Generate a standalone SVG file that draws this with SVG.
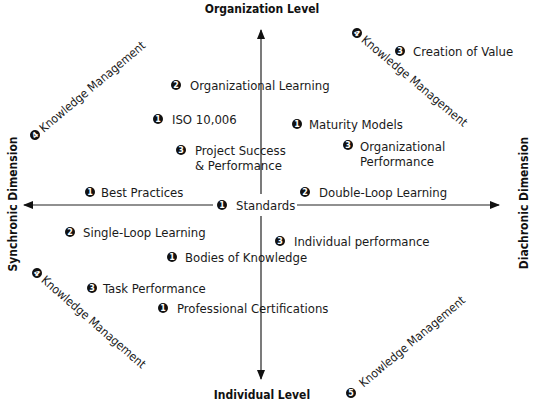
<svg xmlns="http://www.w3.org/2000/svg" width="542" height="401" viewBox="0 0 542 401">
<style>
.t{font-family:"DejaVu Sans Condensed","DejaVu Sans",sans-serif;font-size:13px;fill:#1a1a1a}
.km{font-family:"DejaVu Sans Condensed","DejaVu Sans",sans-serif;font-size:12px;fill:#1a1a1a}
.h{font-family:"DejaVu Sans Condensed","DejaVu Sans",sans-serif;font-size:12px;font-weight:bold;fill:#111}
.b{fill:#111}
.n{font-family:"DejaVu Sans",sans-serif;font-size:8px;font-weight:bold;fill:#fff;text-anchor:middle}
.ax{stroke:#222;stroke-width:1.2;fill:none}
</style>
<defs>
<marker id="ah" viewBox="0 0 10 8" refX="9" refY="4" markerWidth="10" markerHeight="8" markerUnits="userSpaceOnUse" orient="auto">
<path d="M0,0 L10,4 L0,8 Z" fill="#111"/>
</marker>
</defs>
<rect width="542" height="401" fill="#fff"/>
<g id="connectors">
<line class="ax" x1="261" y1="194" x2="261" y2="30" marker-end="url(#ah)"/>
<line class="ax" x1="261" y1="216" x2="261" y2="379" marker-end="url(#ah)"/>
<line class="ax" x1="213" y1="205" x2="24" y2="205" marker-end="url(#ah)"/>
<line class="ax" x1="297" y1="205" x2="499" y2="205" marker-end="url(#ah)"/>
</g>
<g id="axis-labels">
<text class="h" x="262" y="13" text-anchor="middle">Organization Level</text>
<text class="h" x="262" y="399" text-anchor="middle">Individual Level</text>
<text class="h" transform="translate(17,204) rotate(-90)" text-anchor="middle">Synchronic Dimension</text>
<text class="h" transform="translate(528,203) rotate(-90)" text-anchor="middle">Diachronic Dimension</text>
</g>
<g id="standards"><circle class="b" cx="222" cy="205" r="5"/><text class="n" x="222" y="208">1</text><text class="t" x="236" y="210">Standards</text></g>
<g id="org-learning"><circle class="b" cx="176" cy="85" r="5"/><text class="n" x="176" y="88">2</text><text class="t" x="190" y="90">Organizational Learning</text></g>
<g id="iso"><circle class="b" cx="158" cy="119" r="5"/><text class="n" x="158" y="122">1</text><text class="t" x="172" y="124">ISO 10,006</text></g>
<g id="project-success"><circle class="b" cx="181" cy="150" r="5"/><text class="n" x="181" y="153">3</text><text class="t" x="195" y="155">Project Success</text><text class="t" x="195" y="170">&amp; Performance</text></g>
<g id="best-practices"><circle class="b" cx="90" cy="192" r="5"/><text class="n" x="90" y="195">1</text><text class="t" x="101" y="197">Best Practices</text></g>
<g id="maturity"><circle class="b" cx="297" cy="124" r="5"/><text class="n" x="297" y="127">1</text><text class="t" x="309" y="129">Maturity Models</text></g>
<g id="org-performance"><circle class="b" cx="348" cy="145" r="5"/><text class="n" x="348" y="148">3</text><text class="t" x="360" y="151">Organizational</text><text class="t" x="360" y="166">Performance</text></g>
<g id="double-loop"><circle class="b" cx="305" cy="192" r="5"/><text class="n" x="305" y="195">2</text><text class="t" x="319" y="197">Double-Loop Learning</text></g>
<g id="creation-value"><circle class="b" cx="400" cy="51" r="5"/><text class="n" x="400" y="54">3</text><text class="t" x="413" y="56">Creation of Value</text></g>
<g id="single-loop"><circle class="b" cx="70" cy="232" r="5"/><text class="n" x="70" y="235">2</text><text class="t" x="83" y="237">Single-Loop Learning</text></g>
<g id="bodies"><circle class="b" cx="172" cy="257" r="5"/><text class="n" x="172" y="260">1</text><text class="t" x="185" y="262">Bodies of Knowledge</text></g>
<g id="task-performance"><circle class="b" cx="92" cy="288" r="5"/><text class="n" x="92" y="291">3</text><text class="t" x="103" y="293">Task Performance</text></g>
<g id="certifications"><circle class="b" cx="163" cy="308" r="5"/><text class="n" x="163" y="311">1</text><text class="t" x="177" y="313">Professional Certifications</text></g>
<g id="individual-performance"><circle class="b" cx="280" cy="241" r="5"/><text class="n" x="280" y="244">3</text><text class="t" x="294" y="246">Individual performance</text></g>
<g id="km-top-left" transform="translate(35,135) rotate(-40)"><circle class="b" cx="0" cy="0" r="5"/><text class="n" x="0" y="3">4</text><text class="km" x="8" y="4">Knowledge Management</text></g>
<g id="km-top-right" transform="translate(357,33) rotate(40)"><circle class="b" cx="0" cy="0" r="5"/><text class="n" x="0" y="3">4</text><text class="km" x="8" y="4">Knowledge Management</text></g>
<g id="km-bottom-left" transform="translate(37,273) rotate(41)"><circle class="b" cx="0" cy="0" r="5"/><text class="n" x="0" y="3">4</text><text class="km" x="8" y="4">Knowledge Management</text></g>
<g id="km-bottom-right" transform="translate(351,393) rotate(-40)"><circle class="b" cx="0" cy="0" r="5"/><text class="n" x="0" y="3" transform="rotate(40)">5</text><text class="km" x="13" y="4">Knowledge Management</text></g>
</svg>
